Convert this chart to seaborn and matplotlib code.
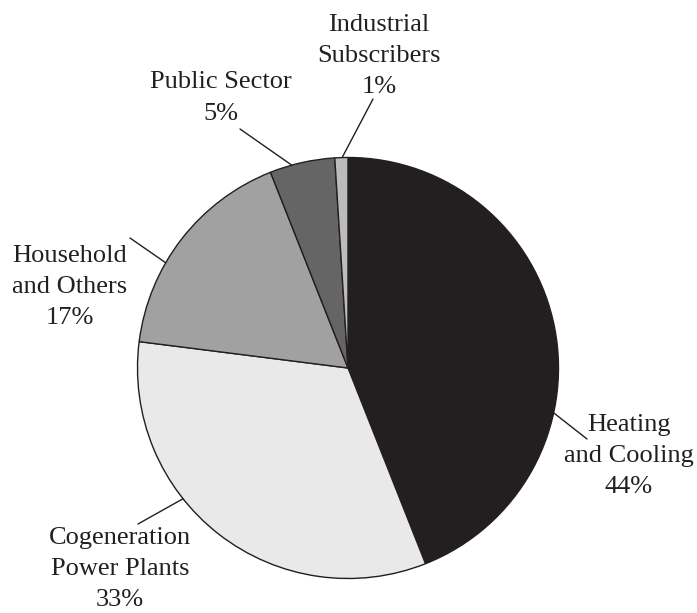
import matplotlib.pyplot as plt
import numpy as np
import seaborn as sns

# slice data, clockwise from 12 o'clock
categories = [
    "Heating\nand Cooling",
    "Cogeneration\nPower Plants",
    "Household\nand Others",
    "Public Sector",
    "Industrial\nSubscribers",
]
shares = [44, 33, 17, 5, 1]
colors = ["#231f20", "#e8e9e8", "#a1a1a1", "#656565", "#bcbcbc"]

# label layout (figure pixels, y up)
label_xy = [(629, 157), (120, 44), (70, 326), (221, 515), (379, 557)]
leader_angle = [-12.3, 218.4, 150.0, 105.5, 91.6]
leader_end = [(587, 174), (138, 89), (130, 375), (240, 484), (373, 514)]

sns.set_theme(style="white")
plt.rcParams["font.family"] = "serif"
plt.rcParams["font.serif"] = ["Liberation Serif", "DejaVu Serif"]

W, H = 697, 613
fig = plt.figure(figsize=(W / 100, H / 100), dpi=100)
ax = fig.add_axes([0, 0, 1, 1])

cx, cy, r = 348, 245, 210.5
ax.pie(
    shares,
    colors=colors,
    startangle=90,
    counterclock=False,
    center=(cx, cy),
    radius=r,
    frame=True,
    wedgeprops=dict(edgecolor="#231f20", linewidth=1.0),
)
ax.set_xlim(0, W)
ax.set_ylim(0, H)
ax.set_aspect("equal")
ax.axis("off")

for name, val, (tx, ty), ang, (ex, ey) in zip(
    categories, shares, label_xy, leader_angle, leader_end
):
    a = np.deg2rad(ang)
    sx, sy = cx + r * np.cos(a), cy + r * np.sin(a)
    ax.plot([sx, ex], [sy, ey], color="#231f20", lw=1.0)
    ax.text(
        tx, ty, f"{name}\n{val}%",
        ha="center", va="center", fontsize=19,
        color="#231f20", linespacing=1.55,
    )

fig.savefig("out.png", dpi=100)
plt.close(fig)
